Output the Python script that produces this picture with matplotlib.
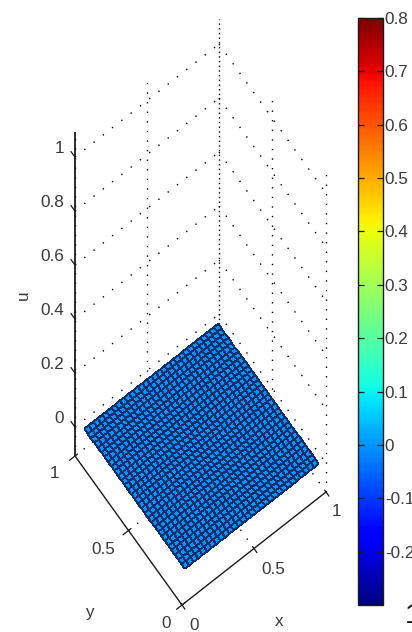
# Flat surface seen from above, MATLAB style view, with a jet colorbar on the side.
import numpy as np
import matplotlib
matplotlib.use('Agg')
import matplotlib.pyplot as plt
from matplotlib.cm import ScalarMappable
from matplotlib.colors import Normalize

plt.rcParams['font.family'] = ['Liberation Sans', 'DejaVu Sans']

# data
x_ticks = [0, 0.5, 1]
y_ticks = [0, 0.5, 1]
u_ticks = [0, 0.2, 0.4, 0.6, 0.8, 1]
u_tick_labels = ['0', '0.2', '0.4', '0.6', '0.8', '1']
xy_tick_labels = ['0', '0.5', '1']
u_limits = [-0.107, 1.093]
surface_x = [0.035, 0.965]
surface_y = [0.025, 0.965]
surface_cells = 30
surface_u = 0.0
cbar_limits = [-0.3, 0.8]
cbar_ticks = [-0.2, -0.1, 0, 0.1, 0.2, 0.3, 0.4, 0.5, 0.6, 0.7, 0.8]
cbar_tick_labels = ['-0.2', '-0.1', '0', '0.1', '0.2', '0.3', '0.4', '0.5', '0.6', '0.7', '0.8']

W, H = 412, 632
TEXT = '#3a3a3a'
LINE = '#1a1a1a'
FS = 12.3

fig = plt.figure(figsize=(W / 100, H / 100), dpi=100)
ax = fig.add_axes([0, 0, 1, 1])
ax.set_xlim(0, W)
ax.set_ylim(H, 0)
ax.axis('off')


def project(x, y, u):
    """Map data coordinates to pixels of the figure (orthographic view)."""
    x, y, u = np.asarray(x, float), np.asarray(y, float), np.asarray(u, float)
    px = 182 + 144 * x - 107 * y
    py = 605 - 113 * x - 149 * y - 270 * (u - u_limits[0])
    return px, py


def line3(p0, p1, **kw):
    a = project(*p0)
    b = project(*p1)
    ax.plot([a[0], b[0]], [a[1], b[1]], solid_capstyle='butt', **kw)


def dotted(p0, p1, gap=9.5):
    line3(p0, p1, color='#000000', lw=1.0, ls=(0, (1, gap / 1.39)), zorder=1)


zlo, zhi = u_limits

# floor grid, mostly hidden by the surface
for xt in x_ticks[1:]:
    dotted((xt, 0, zlo), (xt, 1, zlo))
for yt in y_ticks[1:]:
    dotted((0, yt, zlo), (1, yt, zlo))

# wall grid
for ut in u_ticks:
    dotted((0, 1, ut), (1, 1, ut), gap=10.4)
    dotted((1, 1, ut), (1, 0, ut), gap=10.4)
for xt in x_ticks[:2]:
    dotted((xt, 1, zlo), (xt, 1, zhi), gap=8.2)
for yt in y_ticks[:2]:
    dotted((1, yt, zlo), (1, yt, zhi), gap=8.2)
dotted((1, 1, zlo), (1, 1, zhi), gap=3.3)

# surface
gx, gy = np.meshgrid(np.linspace(*surface_x, surface_cells + 1),
                     np.linspace(*surface_y, surface_cells + 1))
px, py = project(gx, gy, np.full(gx.shape, surface_u))
ax.pcolormesh(px, py, np.full((surface_cells, surface_cells), surface_u),
              cmap='jet', vmin=cbar_limits[0], vmax=cbar_limits[1],
              edgecolors='#0e2f70', linewidth=0.68, shading='flat', zorder=2)

# axes lines
line3((0, 1, zlo), (0, 1, zhi), color=LINE, lw=1.3, zorder=3)
line3((0, 0, zlo), (1, 0, zlo), color=LINE, lw=1.0, zorder=3)
line3((0, 0, zlo), (0, 1, zlo), color=LINE, lw=1.0, zorder=3)

# ticks
for xt in x_ticks:
    line3((xt, -0.03, zlo), (xt, 0.015, zlo), color=LINE, lw=0.9, zorder=3)
for yt in y_ticks:
    line3((-0.04, yt, zlo), (0.02, yt, zlo), color=LINE, lw=0.9, zorder=3)
for ut in u_ticks:
    line3((0, 1, ut), (0, 1.04, ut), color=LINE, lw=0.9, zorder=3)

# tick labels
for ut, label in zip(u_ticks, u_tick_labels):
    tx, ty = project(0, 1, ut)
    ax.text(tx - 11, ty - 9, label, ha='right', va='center', fontsize=FS, color=TEXT)
x_offsets = [(12, 20), (19, 21), (11, 20)]
y_offsets = [(-16, 18), (-25, 18.5), (-20, 18)]
for xt, label, off in zip(x_ticks, xy_tick_labels, x_offsets):
    tx, ty = project(xt, 0, zlo)
    ax.text(tx + off[0], ty + off[1], label, ha='center', va='center', fontsize=FS, color=TEXT)
for yt, label, off in zip(y_ticks, xy_tick_labels, y_offsets):
    tx, ty = project(0, yt, zlo)
    ax.text(tx + off[0], ty + off[1], label, ha='center', va='center', fontsize=FS, color=TEXT)

ax.text(279, 622, 'x', ha='center', va='center', fontsize=FS, color=TEXT)
ax.text(89, 613, 'y', ha='center', va='center', fontsize=FS, color=TEXT)
ax.text(23, 295, 'u', ha='center', va='center', fontsize=FS, color=TEXT, rotation=90)

# colorbar
cax = fig.add_axes([358.3 / W, (H - 605) / H, 24.4 / W, 587 / H])
sm = ScalarMappable(norm=Normalize(*cbar_limits), cmap=plt.get_cmap('jet', 256))
cb = fig.colorbar(sm, cax=cax)
cb.set_ticks(cbar_ticks, labels=cbar_tick_labels)
cb.outline.set_linewidth(1.0)
cb.outline.set_edgecolor(LINE)
cax.tick_params(axis='y', direction='in', left=True, right=True, length=4, width=0.9,
                pad=1.5, labelsize=FS, labelcolor=TEXT, color=LINE)

# stray digit clipped by the right edge of the image
fig.text(405 / W, 1 - 616 / H, '1', ha='left', va='center', fontsize=20, color='#111111')

fig.savefig('out.png', dpi=100)
